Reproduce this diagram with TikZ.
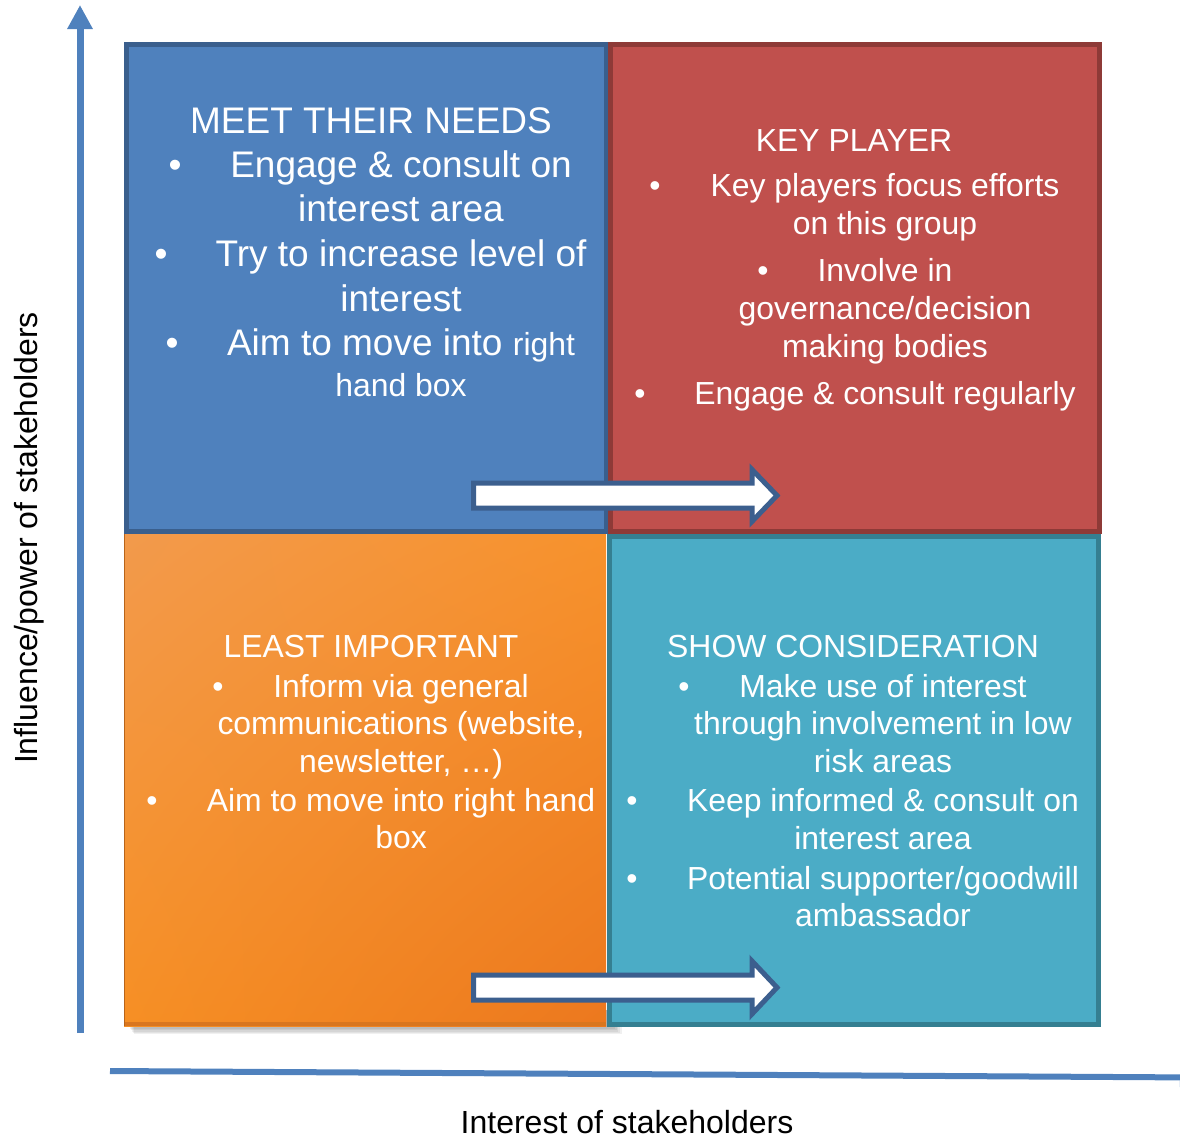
\documentclass[tikz,border=0pt]{standalone}
\usepackage{fontspec}
\setmainfont{Liberation Sans}
\usetikzlibrary{arrows.meta,shadings}

\definecolor{bluefill}{HTML}{4F81BD}
\definecolor{blueedge}{HTML}{3A5F8D}
\definecolor{redfill}{HTML}{C0504D}
\definecolor{rededge}{HTML}{8E3A37}
\definecolor{tealfill}{HTML}{4BACC6}
\definecolor{tealedge}{HTML}{357F91}
\definecolor{orangeA}{HTML}{F29A4C}
\definecolor{orangeB}{HTML}{F7922C}
\definecolor{orangeC}{HTML}{F68F24}
\definecolor{orangeD}{HTML}{EC781E}
\definecolor{orangeedge}{HTML}{D9761F}
\definecolor{axisblue}{HTML}{4F81BD}
\definecolor{arrowedge}{HTML}{3C5F8E}

\begin{document}
\begin{tikzpicture}[x=1pt,y=-1pt,
  bigtxt/.style={text=white,anchor=base,inner sep=0pt,font=\fontsize{37}{44}\selectfont},
  midtxt/.style={text=white,anchor=base,inner sep=0pt,font=\fontsize{31.9}{38}\selectfont},
  axislabel/.style={text=black,anchor=base,inner sep=0pt,font=\fontsize{32}{38}\selectfont},
  axisline/.style={draw=axisblue,line width=7pt},
  blockarrow/.style={draw=arrowedge,fill=white,line width=5pt,line join=miter}]

\useasboundingbox (0,0) rectangle (1180,1136);
\clip (0,0) rectangle (1180,1136);

% soft shadow under the lower left quadrant
\foreach \s in {1,...,6}
  \fill[black,opacity=0.06] (128+\s,1010) rectangle (612+1.6*\s,1026+1.4*\s);

% quadrants
\fill[upper left=orangeA,upper right=orangeB,lower left=orangeC,lower right=orangeD]
  (124,534) rectangle (606,1026);
\fill[orangeedge] (124,1022) rectangle (606,1026);
\fill[orangeedge!85!black] (124,534) rectangle (125.2,1026);
\draw[fill=bluefill,draw=blueedge,line width=5pt] (126.5,44.5) rectangle (606,531.5);
\draw[fill=redfill,draw=rededge,line width=5pt] (610,44.5) rectangle (1099.5,531.5);
\draw[fill=tealfill,draw=tealedge,line width=5pt] (609.5,536.5) rectangle (1098.5,1024.5);

% block arrows pointing to the right-hand boxes
\draw[blockarrow] (473.5,483) -- (752,483) -- (752,469.5) -- (777,495.5)
  -- (752,521.5) -- (752,508) -- (473.5,508) -- cycle;
\draw[blockarrow] (473.5,975) -- (752,975) -- (752,961) -- (777,987.5)
  -- (752,1014) -- (752,1000) -- (473.5,1000) -- cycle;

% axes
\coordinate (ybot) at (80,1033);
\coordinate (ytop) at (80,5);
\draw[axisline,-{Triangle[width=24pt,length=24pt]}] (ybot) -- (ytop);
\coordinate (xleft) at (110,1071);
\coordinate (xright) at (1200,1077.5);
\draw[axisline,line width=6pt,-{Triangle[width=18pt,length=20pt]}] (xleft) -- (xright);

\node[axislabel] (xlab) at (627,1133) {Interest of stakeholders};
\node[axislabel,rotate=90] (ylab) at (37,538) {Influence/power of stakeholders};

% upper left: meet their needs
\node[bigtxt] (mt0) at (371,133) {MEET THEIR NEEDS};
\node[bigtxt] (mb1) at (175,177) {•};
\node[bigtxt] (mt1) at (401,177) {Engage \& consult on};
\node[bigtxt] (mt2) at (401,221) {interest area};
\node[bigtxt] (mb2) at (161,266) {•};
\node[bigtxt] (mt3) at (401,266) {Try to increase level of};
\node[bigtxt] (mt4) at (401,311) {interest};
\node[bigtxt] (mb3) at (172,355) {•};
\node[bigtxt] (mt5) at (401,355) {Aim to move into {\fontsize{31.9}{38}\selectfont right}};
\node[midtxt] (mt6) at (401,396) {hand box};

% upper right: key player
\node[midtxt] (kt0) at (854,151) {KEY PLAYER};
\node[midtxt] (kb1) at (655,196) {•};
\node[midtxt] (kt1) at (885,196) {Key players focus efforts};
\node[midtxt] (kt2) at (885,234) {on this group};
\node[midtxt] (kb2) at (763,281) {•};
\node[midtxt] (kt3) at (885,281) {Involve in};
\node[midtxt] (kt4) at (885,319) {governance/decision};
\node[midtxt] (kt5) at (885,357) {making bodies};
\node[midtxt] (kb3) at (640,404) {•};
\node[midtxt] (kt6) at (885,404) {Engage \& consult regularly};

% lower left: least important
\node[midtxt] (lt0) at (371,657) {LEAST IMPORTANT};
\node[midtxt] (lb1) at (218,697) {•};
\node[midtxt] (lt1) at (401,697) {Inform via general};
\node[midtxt] (lt2) at (401,734) {communications (website,};
\node[midtxt] (lt3) at (401,772) {newsletter, …)};
\node[midtxt] (lb2) at (152,811) {•};
\node[midtxt] (lt4) at (401,811) {Aim to move into right hand};
\node[midtxt] (lt5) at (401,848) {box};

% lower right: show consideration
\node[midtxt] (st0) at (853,657) {SHOW CONSIDERATION};
\node[midtxt] (sb1) at (684,697) {•};
\node[midtxt] (st1) at (883,697) {Make use of interest};
\node[midtxt] (st2) at (883,734) {through involvement in low};
\node[midtxt] (st3) at (883,772) {risk areas};
\node[midtxt] (sb2) at (632,811) {•};
\node[midtxt] (st4) at (883,811) {Keep informed \& consult on};
\node[midtxt] (st5) at (883,849) {interest area};
\node[midtxt] (sb3) at (632,889) {•};
\node[midtxt] (st6) at (883,889) {Potential supporter/goodwill};
\node[midtxt] (st7) at (883,926) {ambassador};

\end{tikzpicture}
\end{document}
